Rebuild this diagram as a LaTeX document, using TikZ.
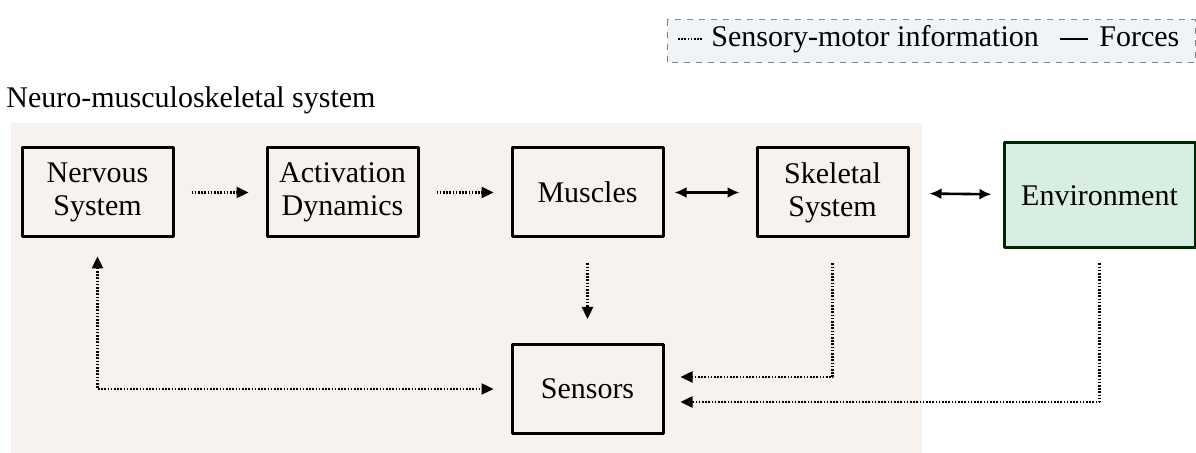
\documentclass[tikz,border=0pt]{standalone}
\usepackage{fontspec}
\setmainfont{Liberation Serif}
\usetikzlibrary{arrows.meta,shadows}
\definecolor{bgbeige}{HTML}{F7F2EE}
\definecolor{envgreen}{HTML}{D9EEE2}
\definecolor{legendblue}{HTML}{EEF4F8}
\begin{document}
\begin{tikzpicture}[x=0.5pt, y=-0.5pt, font=\fontsize{15}{16.5}\selectfont, line join=round,
	block/.style={draw, line width=1.5pt, minimum width=75.5pt, minimum height=44.5pt, inner sep=0pt, align=center},
	info/.style={line width=1.2pt, dash pattern=on 0.8pt off 0.8pt, -{Triangle[length=6pt,width=5.5pt]}},
	force/.style={line width=1.3pt, {Latex[length=6pt,width=5.5pt]}-{Latex[length=6pt,width=5.5pt]}}]
	\useasboundingbox (0,0) rectangle (1196,453);
	% backgrounds
	\fill[bgbeige] (11,123) rectangle (922,453);
	\draw[gray, line width=0.5pt, dashed, fill=legendblue] (667,20) rectangle (1195,63);
	% legend
	\draw[line width=1.2pt, dash pattern=on 0.8pt off 0.8pt] (678,39) -- (702,39);
	\node[anchor=base west, inner sep=0pt] (infolabel) at (711,47) {Sensory-motor information};
	\draw[line width=1.4pt] (1060,39) -- (1088,39);
	\node[anchor=base west, inner sep=0pt] (forcelabel) at (1099,47) {Forces};
	\node[anchor=base west, inner sep=0pt] (title) at (6,108) {Neuro-musculoskeletal system};
	% blocks
	\node[block] (nervous) at (97.5,192.5) {Nervous\\System};
	\node[block] (activation) at (342.5,192.5) {Activation\\Dynamics};
	\node[block] (muscles) at (587.5,192.5) {Muscles};
	\node[block] (skeletal) at (832.5,192.5) {Skeletal\\System};
	\node[block, fill=envgreen, draw=black!85!green, minimum width=95.5pt, minimum height=52.5pt,
		drop shadow={shadow xshift=0.6pt, shadow yshift=-0.6pt, fill=gray!70}] (environment) at (1099.5,195.5) {Environment};
	\node[block, fill=bgbeige] (sensors) at (587.5,389) {Sensors};
	% connections
	\draw[info, shorten <=8.5pt, shorten >=8.5pt] (nervous) -- (activation);
	\draw[info, shorten <=8.5pt, shorten >=8.5pt] (activation) -- (muscles);
	\draw[force, shorten <=5pt, shorten >=8pt] (muscles) -- (skeletal);
	\draw[force, shorten <=10pt, shorten >=5.5pt] (skeletal) -- (environment);
	\draw[info, shorten <=12.5pt, shorten >=12pt] (muscles) -- (sensors);
	\draw[info] ([yshift=-12.5pt]skeletal.south) |- ([xshift=8pt, yshift=6pt]sensors.east);
	\draw[info] ([yshift=-7pt]environment.south) |- ([xshift=8pt, yshift=-6.5pt]sensors.east);
	\draw[info, {Triangle[length=6pt,width=5.5pt]}-{Triangle[length=6pt,width=5.5pt]}] ([yshift=-9pt]nervous.south) |- ([xshift=-8.5pt]sensors.west);
\end{tikzpicture}
\end{document}
